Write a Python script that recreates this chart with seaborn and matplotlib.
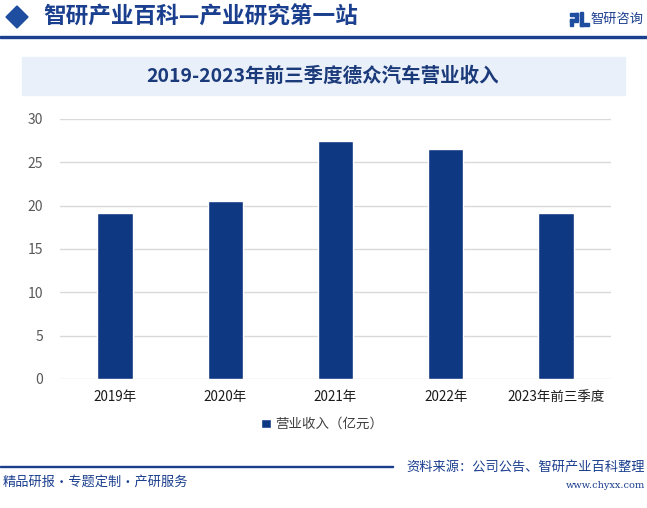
import matplotlib
matplotlib.use("Agg")
import matplotlib.pyplot as plt
import seaborn as sns
import pandas as pd
from matplotlib.patches import Rectangle, Polygon

categories = ["2019年", "2020年", "2021年", "2022年", "2023年前三季度"]
revenue = [19.1, 20.5, 27.5, 26.5, 19.1]
yticks = [0, 5, 10, 15, 20, 25, 30]
series_name = "营业收入（亿元）"

sns.set_theme(style="white")
plt.rcParams['font.family'] = ['Noto Sans CJK SC', 'DejaVu Sans']

W, H = 647, 508
fig = plt.figure(figsize=(W / 100, H / 100), dpi=100)
fig.patch.set_facecolor("white")

navy = "#1b3f8f"
bar_color = "#0f3883"

def frect(x, y, w, h, color, z=1):
    fig.patches.append(Rectangle((x / W, 1 - (y + h) / H), w / W, h / H,
                                 transform=fig.transFigure, color=color, zorder=z))

# header
fig.patches.append(Polygon([[6 / W, 1 - 17 / H], [17 / W, 1 - 6 / H], [28 / W, 1 - 17 / H], [17 / W, 1 - 28 / H]],
                           closed=True, transform=fig.transFigure, color="#1f4ea0", zorder=2))
fig.text(43 / W, 1 - 17 / H, "智研产业百科—产业研究第一站", fontsize=16.3, fontweight="bold",
         color=navy, va="center", ha="left")
# small logo
frect(570, 13, 8, 3, "#1f4ea0")
frect(575, 13, 3, 7, "#1f4ea0")
frect(570, 19, 8, 3, "#1f4ea0")
frect(570, 19, 3, 7, "#1f4ea0")
frect(580, 12, 3, 14, "#1f4ea0")
frect(580, 23, 9, 3, "#1f4ea0")
fig.text(643 / W, 1 - 19 / H, "智研咨询", fontsize=9.5, color=navy, va="center", ha="right")
frect(0, 36, W, 1.5, navy)

# title box
frect(22, 57, 603, 38, "#e9f0fa", 0)
fig.text(323 / W, 1 - 76 / H, "2019-2023年前三季度德众汽车营业收入", fontsize=14, fontweight="bold",
         color="#1b3a7a", va="center", ha="center")

# chart
ax = fig.add_axes([60 / W, 1 - 379 / H, 551 / W, 260 / H])
df = pd.DataFrame({"year": categories, "value": revenue})
sns.barplot(data=df, x="year", y="value", color=bar_color, saturation=1, width=0.32, ax=ax,
            label=series_name)
ax.set_ylim(0, 30)
ax.set_yticks(yticks)
ax.set_xlim(-0.5, len(categories) - 0.5)
ax.set_xlabel("")
ax.set_ylabel("")
ax.yaxis.grid(True, color="#d9d9d9", linewidth=1)
ax.set_axisbelow(True)
for s in ax.spines.values():
    s.set_visible(False)
ax.tick_params(axis="y", labelsize=10, labelcolor="#595959", length=0, pad=12)
ax.tick_params(axis="x", labelsize=9.7, labelcolor="#1a1a1a", length=0, pad=8)
ax.set_facecolor("none")
leg = ax.legend(loc="center", bbox_to_anchor=(322 / W, 1 - 424 / H), bbox_transform=fig.transFigure,
                frameon=False, fontsize=9.7, handlelength=0.7, handleheight=0.7, handletextpad=0.3)
for t in leg.get_texts():
    t.set_color("#404040")

# footer
frect(0, 466, 393, 1.3, navy)
fig.text(645 / W, 1 - 467 / H, "资料来源：公司公告、智研产业百科整理", fontsize=9.5, color=navy,
         va="center", ha="right")
fig.text(645 / W, 1 - 485 / H, "www.chyxx.com", fontsize=7, color=navy, va="center", ha="right",
         family=["DejaVu Serif"])
fig.text(3 / W, 1 - 482 / H, "精品研报・专题定制・产研服务", fontsize=9.5, color=navy,
         va="center", ha="left")

fig.savefig("out.png", dpi=100)
